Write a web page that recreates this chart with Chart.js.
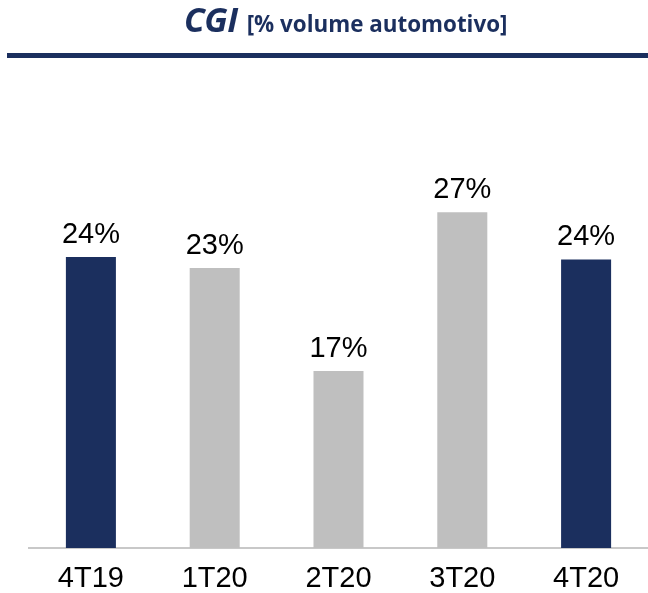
<!DOCTYPE html>
<html>
<head>
<meta charset="utf-8">
<script src="https://cdn.jsdelivr.net/npm/chart.js@4.4.1/dist/chart.umd.min.js"></script>
<style>
  html, body { margin: 0; padding: 0; background: #ffffff; }
  #wrap { position: relative; width: 648px; height: 593px; overflow: hidden; }
  #title { position: absolute; left: 184px; top: -1px; line-height: 40px; white-space: nowrap;
           color: #1b2f5e; font-family: "Open Sans", sans-serif; font-weight: 700; z-index: 2; }
  #title .main { font-size: 34px; font-style: italic; letter-spacing: -0.5px; }
  #title .sub { font-size: 22.4px; margin-left: 9px; }
  #rule { position: absolute; left: 7px; top: 53px; width: 641px; height: 5px; background: #1b2f5e; z-index: 2; }
  #c { position: absolute; left: 0; top: 0; }
</style>
</head>
<body>
<div id="wrap">
  <div id="title"><span class="main">CGI</span><span class="sub">[% volume automotivo]</span></div>
  <div id="rule"></div>
  <canvas id="c" width="648" height="593"></canvas>
</div>
<script>
// Data
const categories = ["4T19", "1T20", "2T20", "3T20", "4T20"];
const barValues = [24.0, 23.1, 14.6, 27.7, 23.8];
const valueLabels = ["24%", "23%", "17%", "27%", "24%"];
const barColors = ["#1b2f5e", "#bfbfbf", "#bfbfbf", "#bfbfbf", "#1b2f5e"];

const labelFont = '"Liberation Sans Narrow", "Arial Narrow", sans-serif';

const valueLabelPlugin = {
  id: 'valueLabels',
  afterDatasetsDraw(chart) {
    const ctx = chart.ctx;
    const meta = chart.getDatasetMeta(0);
    ctx.save();
    ctx.font = '29px ' + labelFont;
    ctx.fillStyle = '#000000';
    ctx.textAlign = 'center';
    ctx.textBaseline = 'alphabetic';
    meta.data.forEach((bar, i) => {
      ctx.fillText(valueLabels[i], bar.x, bar.y - 14);
    });
    ctx.restore();
  }
};

new Chart(document.getElementById('c'), {
  type: 'bar',
  data: {
    labels: categories,
    datasets: [{
      data: barValues,
      backgroundColor: barColors,
      borderWidth: 0,
      barPercentage: 0.404,
      categoryPercentage: 1.0
    }]
  },
  options: {
    responsive: false,
    animation: false,
    devicePixelRatio: 1,
    layout: { padding: { top: 63, left: 29, right: 0, bottom: 0 } },
    plugins: { legend: { display: false }, tooltip: { enabled: false }, title: { display: false } },
    scales: {
      y: { display: false, min: 0, max: 40 },
      x: {
        grid: { display: false, drawTicks: false },
        border: { display: true, color: '#c8c8c8', width: 2 },
        ticks: { color: '#000000', font: { family: labelFont, size: 29 }, padding: 14, maxRotation: 0 },
        afterFit(axis) { axis.height = 45; }
      }
    }
  },
  plugins: [valueLabelPlugin]
});
</script>
</body>
</html>
